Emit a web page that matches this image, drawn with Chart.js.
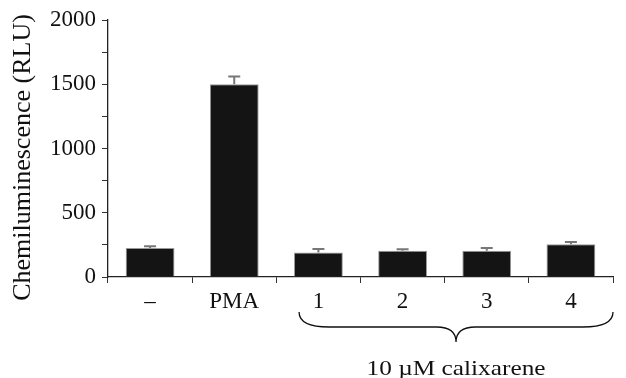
<!DOCTYPE html>
<html>
<head>
<meta charset="utf-8">
<script src="https://cdn.jsdelivr.net/npm/chart.js@4"></script>
<style>
  html, body { margin: 0; padding: 0; background: #fff; }
  #wrap { width: 626px; height: 378px; position: relative; }
</style>
</head>
<body>
<div id="wrap"><canvas id="chart"></canvas></div>
<script>
// ================= DATA =================
const categories = ['\u2013', 'PMA', '1', '2', '3', '4'];
const values = [225, 1500, 190, 205, 205, 255];
const errors = [15, 60, 28, 10, 20, 18];
const yTicks = [0, 500, 1000, 1500, 2000];
const yTitle = 'Chemiluminescence (RLU)';
const groupLabel = '10 \u00b5M calixarene';
const groupFrom = 2, groupTo = 5;

const font = 'Liberation Serif';

// ================= ERROR BARS, BRACE, TITLE =================
const extras = {
    id: 'extras',
    afterDatasetsDraw(chart) {
        const ctx = chart.ctx;
        const x = chart.scales.x, y = chart.scales.y;
        const area = chart.chartArea;
        ctx.save();
        ctx.strokeStyle = '#777';
        ctx.lineWidth = 2;
        values.forEach((v, i) => {
            const px = x.getPixelForValue(i);
            const top = y.getPixelForValue(v + errors[i]);
            ctx.beginPath();
            ctx.moveTo(px, y.getPixelForValue(v));
            ctx.lineTo(px, top);
            ctx.moveTo(px - 6, top);
            ctx.lineTo(px + 6, top);
            ctx.stroke();
        });

        // brace under the calixarene group
        const w = x.getPixelForValue(1) - x.getPixelForValue(0);
        const x1 = x.getPixelForValue(groupFrom) - 0.23 * w;
        const x2 = x.getPixelForValue(groupTo) + 0.5 * w;
        const mid = (x1 + x2) / 2;
        const y0 = area.bottom + 35, y1 = y0 + 30;
        const r = 15;
        ctx.strokeStyle = '#111';
        ctx.lineWidth = 1.3;
        ctx.beginPath();
        ctx.moveTo(x1, y0);
        ctx.quadraticCurveTo(x1, y0 + r, x1 + r * 2, y0 + r);
        ctx.lineTo(mid - r * 1.3, y0 + r);
        ctx.quadraticCurveTo(mid, y0 + r, mid, y1);
        ctx.quadraticCurveTo(mid, y0 + r, mid + r * 1.3, y0 + r);
        ctx.lineTo(x2 - r * 2, y0 + r);
        ctx.quadraticCurveTo(x2, y0 + r, x2, y0);
        ctx.stroke();

        ctx.fillStyle = '#111';
        ctx.textAlign = 'center';
        ctx.textBaseline = 'middle';

        // group label (slightly wide, like the source figure)
        ctx.save();
        ctx.translate(mid, y1 + 27);
        ctx.scale(1.15, 1);
        ctx.font = '22px "' + font + '"';
        ctx.fillText(groupLabel, 0, 0);
        ctx.restore();

        // y axis title
        ctx.save();
        ctx.translate(23, (area.top + area.bottom) / 2 + 9);
        ctx.rotate(-Math.PI / 2);
        ctx.font = '26px "' + font + '"';
        ctx.fillText(yTitle, 0, 0);
        ctx.restore();

        ctx.restore();
    }
};

new Chart(document.getElementById('chart'), {
    type: 'bar',
    data: {
        labels: categories,
        datasets: [{
            data: values,
            backgroundColor: '#141414',
            borderColor: '#999',
            borderWidth: 1,
            categoryPercentage: 1,
            barPercentage: 0.58
        }]
    },
    options: {
        responsive: true,
        maintainAspectRatio: false,
        animation: false,
        layout: { padding: { top: 20, right: 13, left: 0, bottom: 0 } },
        plugins: { legend: { display: false }, tooltip: { enabled: false } },
        scales: {
            x: {
                grid: {
                    display: true,
                    drawOnChartArea: false,
                    offset: true,
                    tickLength: 6,
                    // no tick at the far right end
                    color: c => c.index === categories.length ? 'rgba(0,0,0,0)' : '#333'
                },
                border: { color: '#222', width: 1.3 },
                ticks: { color: '#111', font: { family: font, size: 23 }, padding: 5 },
                afterFit(s) { s.height = 101; }
            },
            y: {
                min: 0,
                max: 2000,
                grid: { drawOnChartArea: false, tickLength: 6, color: '#333' },
                border: { color: '#222', width: 1.3 },
                ticks: {
                    stepSize: 250,
                    color: '#111',
                    font: { family: font, size: 23 },
                    padding: 6,
                    callback: v => yTicks.includes(v) ? v : ''
                },
                afterFit(s) { s.width = 108; }
            }
        }
    },
    plugins: [extras]
});
</script>
</body>
</html>
